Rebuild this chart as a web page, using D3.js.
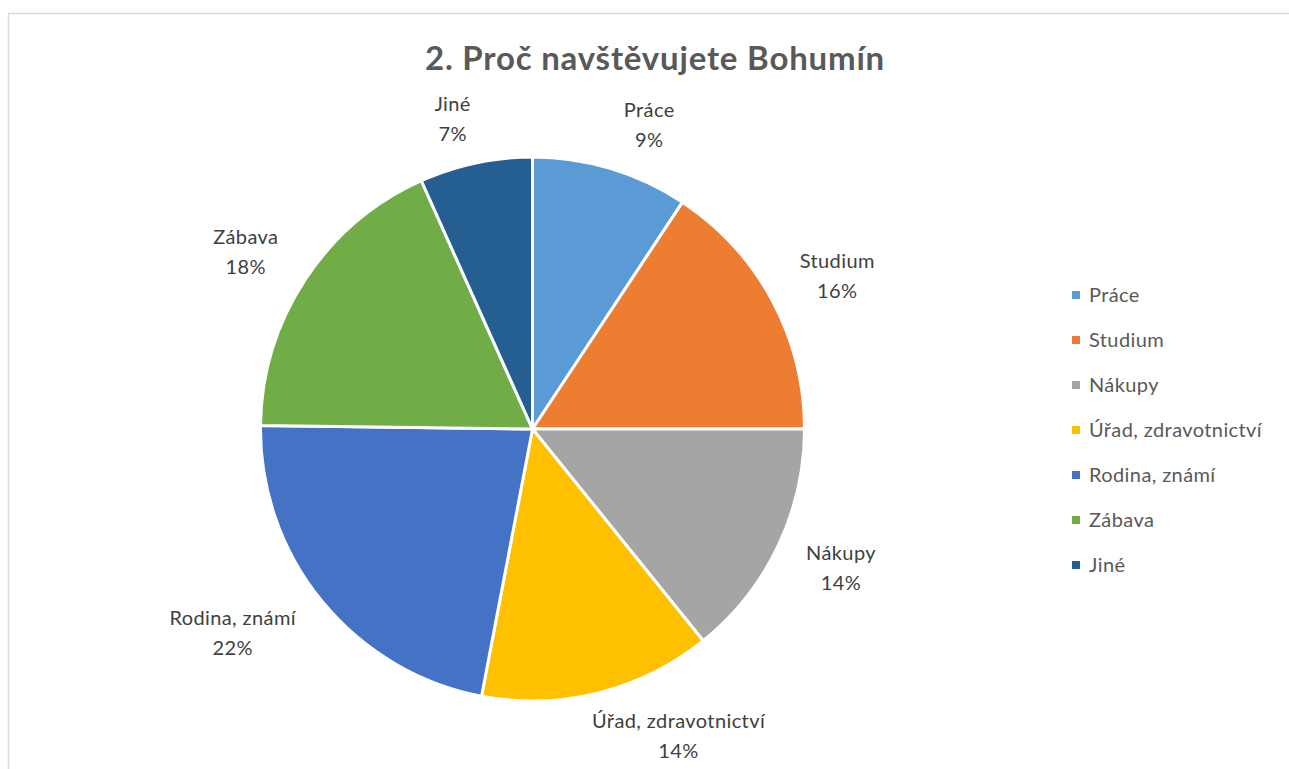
<!DOCTYPE html>
<html><head><meta charset="utf-8">
<script src="https://cdn.jsdelivr.net/npm/d3@7"></script>
<style>body{margin:0;background:#fff;} svg{display:block;}</style>
</head><body>
<svg id="c" width="1289" height="769"></svg>
<script>
const title = "2. Proč navštěvujete Bohumín";
const categories = ["Práce","Studium","Nákupy","Úřad, zdravotnictví","Rodina, známí","Zábava","Jiné"];
const values = [9.3, 15.7, 14.2, 13.8, 22.2, 18.1, 6.7];
const colors = ["#5B9BD5","#ED7D31","#A5A5A5","#FFC000","#4472C4","#70AD47","#255E91"];

const svg = d3.select("#c");
const font = "Lato, 'Open Sans', sans-serif";

svg.append("rect").attr("x",8.5).attr("y",13.5).attr("width",1400).attr("height",900)
  .attr("fill","#fff").attr("stroke","#d9d9d9").attr("stroke-width",1.5);

svg.append("text").attr("x",655).attr("y",70).attr("text-anchor","middle")
  .attr("font-family",font).attr("font-weight","bold").attr("font-size",33)
  .attr("letter-spacing",0.8).attr("fill","#595959").text(title);

const cx = 532.5, cy = 429, r = 272;
const total = d3.sum(values);
const pie = d3.pie().sort(null).value(d=>d);
const arcs = pie(values);
const arc = d3.arc().innerRadius(0).outerRadius(r);

const g = svg.append("g").attr("transform",`translate(${cx},${cy})`);
g.selectAll("path").data(arcs).join("path")
  .attr("d",arc).attr("fill",(d,i)=>colors[i])
  .attr("stroke","#fff").attr("stroke-width",3).attr("stroke-linejoin","round");

// outside-end labels: anchor on the ring at the mid angle, box pushed outward
const gap = 20, lh = 30, boxH = 48, padX = 10;
const clamp = v => Math.max(-1, Math.min(1, v));
arcs.forEach((d,i)=>{
  const a = (d.startAngle+d.endAngle)/2;
  const s = Math.sin(a), c = -Math.cos(a);
  const t = g.append("text").attr("font-family",font).attr("font-size",20)
    .attr("letter-spacing",0.4).attr("fill","#404040").attr("text-anchor","middle");
  t.append("tspan").attr("x",0).attr("dy",0).text(categories[i]);
  t.append("tspan").attr("x",0).attr("dy",lh).text(Math.round(d.value/total*100)+"%");
  const w = t.node().getBBox().width + 2*padX;
  const px = (r+gap)*s, py = (r+gap)*c;
  const bx = px + w/2*clamp(s*3.2);
  const by = py + boxH/2*clamp(c*1.3);
  t.attr("transform",`translate(${bx},${by - 8})`);
});

// legend
const lg = svg.append("g");
categories.forEach((name,i)=>{
  const y = 295 + i*45;
  lg.append("rect").attr("x",1072).attr("y",y-4).attr("width",8).attr("height",8).attr("fill",colors[i]);
  lg.append("text").attr("x",1089).attr("y",y+7).attr("font-family",font).attr("font-size",20)
    .attr("letter-spacing",0.4).attr("fill","#595959").text(name);
});
</script>
</body></html>
